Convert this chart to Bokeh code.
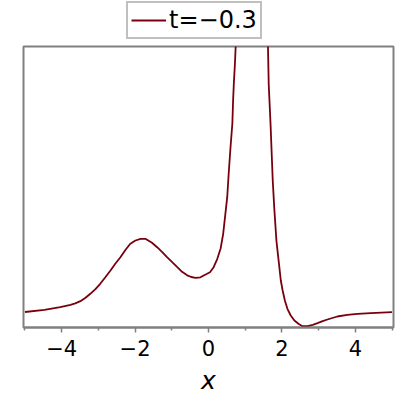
from bokeh.plotting import figure
from bokeh.layouts import column
from bokeh.models import Range1d, FixedTicker, Legend, LegendItem
from bokeh.embed import file_html
from bokeh.resources import INLINE

# curve samples (y in arbitrary units)
x_vals = [-5.00, -4.47, -4.04, -3.76, -3.63, -3.49, -3.35, -3.22, -3.08, -2.95,
          -2.81, -2.67, -2.54, -2.40, -2.26, -2.13, -1.99, -1.85, -1.72, -1.54,
          -1.40, -1.26, -1.13, -0.99, -0.85, -0.72, -0.58, -0.47, -0.35, -0.22,
          -0.04, 0.04, 0.14, 0.24, 0.33, 0.40, 0.51, 0.55, 0.60, 0.65,
          0.67, 0.69, 0.72, 0.74, 0.80, 0.95, 1.20, 1.45, 1.57, 1.62,
          1.64, 1.69, 1.75, 1.77, 1.79, 1.82, 1.85, 1.89, 1.93, 1.97,
          2.02, 2.08, 2.15, 2.24, 2.34, 2.45, 2.56, 2.70, 2.84, 2.97,
          3.11, 3.24, 3.51, 3.78, 4.06, 4.42, 5.00]
y_vals = [0.005, 0.027, 0.053, 0.077, 0.092, 0.113, 0.147, 0.187, 0.233, 0.287,
          0.353, 0.420, 0.487, 0.553, 0.627, 0.687, 0.720, 0.737, 0.737, 0.697,
          0.653, 0.603, 0.553, 0.503, 0.453, 0.407, 0.372, 0.355, 0.347, 0.352,
          0.387, 0.403, 0.453, 0.537, 0.640, 0.787, 1.153, 1.390, 1.653, 1.890,
          2.120, 2.287, 2.487, 2.660, 3.400, 5.600, 7.600, 5.600, 3.300, 2.660,
          2.287, 1.887, 1.320, 1.187, 1.053, 0.887, 0.720, 0.587, 0.453, 0.320,
          0.220, 0.120, 0.037, -0.030, -0.080, -0.113, -0.137, -0.137, -0.123, -0.107,
          -0.087, -0.070, -0.040, -0.023, -0.013, -0.007, 0.003]

x_ticks = [-4, -2, 0, 2, 4]
x_minor_ticks = [-5, -3, -1, 1, 3, 5]
x_tick_labels = ["\u22124", "\u22122", "0", "2", "4"]
series_label = "t=\u22120.3"
x_label = "x"

LINE_COLOR = "#78000E"
LINE_WIDTH = 1.8
GRAY = "#808080"

# ---- legend strip (drawn above the plot box) ----
# its key renderer draws the same series but outside this strip's visible ranges
lg = figure(width=395, height=44, x_range=Range1d(10, 11), y_range=Range1d(10, 11),
            output_backend="svg", toolbar_location=None,
            x_axis_location=None, y_axis_location=None,
            min_border_left=0, min_border_right=0, min_border_top=0,
            min_border_bottom=0)
lg.grid.visible = False
lg.outline_line_color = None
lg.background_fill_color = "white"
lg.border_fill_color = "white"
key = lg.line(x_vals, y_vals, line_color=LINE_COLOR, line_width=LINE_WIDTH)
legend = Legend(items=[LegendItem(label=series_label, renderers=[key])],
                location=(103, 5), orientation="vertical",
                label_text_font="DejaVu Sans", label_text_font_size="24px",
                label_text_color="black",
                glyph_width=35, glyph_height=20, label_standoff=3,
                padding=3, margin=0, spacing=0,
                border_line_color=GRAY, border_line_width=2,
                background_fill_color="white", background_fill_alpha=1.0)
lg.add_layout(legend, "center")

# ---- main plot ----
p = figure(frame_width=370, frame_height=281,
           x_range=Range1d(-5.04, 5.04), y_range=Range1d(-0.15, 2.66),
           output_backend="svg", toolbar_location=None, y_axis_location=None,
           min_border_left=23, min_border_right=2, min_border_top=2,
           min_border_bottom=65)

p.background_fill_color = "white"
p.border_fill_color = "white"
p.grid.visible = False
p.outline_line_color = GRAY
p.outline_line_width = 2

p.line(x_vals, y_vals, line_color=LINE_COLOR, line_width=LINE_WIDTH)

ax = p.xaxis[0]
ax.ticker = FixedTicker(ticks=x_ticks, minor_ticks=x_minor_ticks)
ax.major_label_overrides = {t: l for t, l in zip(x_ticks, x_tick_labels)}
ax.axis_line_color = GRAY
ax.axis_line_width = 2
ax.major_tick_line_color = GRAY
ax.minor_tick_line_color = GRAY
ax.major_tick_line_width = 1.5
ax.minor_tick_line_width = 1.5
ax.major_tick_out = 5
ax.major_tick_in = 0
ax.minor_tick_out = 3
ax.minor_tick_in = 0
ax.major_label_text_font = "DejaVu Sans"
ax.major_label_text_font_size = "21px"
ax.major_label_text_color = "black"
ax.major_label_standoff = 7
ax.axis_label = x_label
ax.axis_label_text_font = "DejaVu Sans"
ax.axis_label_text_font_style = "italic"
ax.axis_label_text_font_size = "25px"
ax.axis_label_text_color = "black"
ax.axis_label_standoff = 7

layout = column(lg, p, spacing=0)

open("out.html", "w").write(file_html(layout, INLINE))
